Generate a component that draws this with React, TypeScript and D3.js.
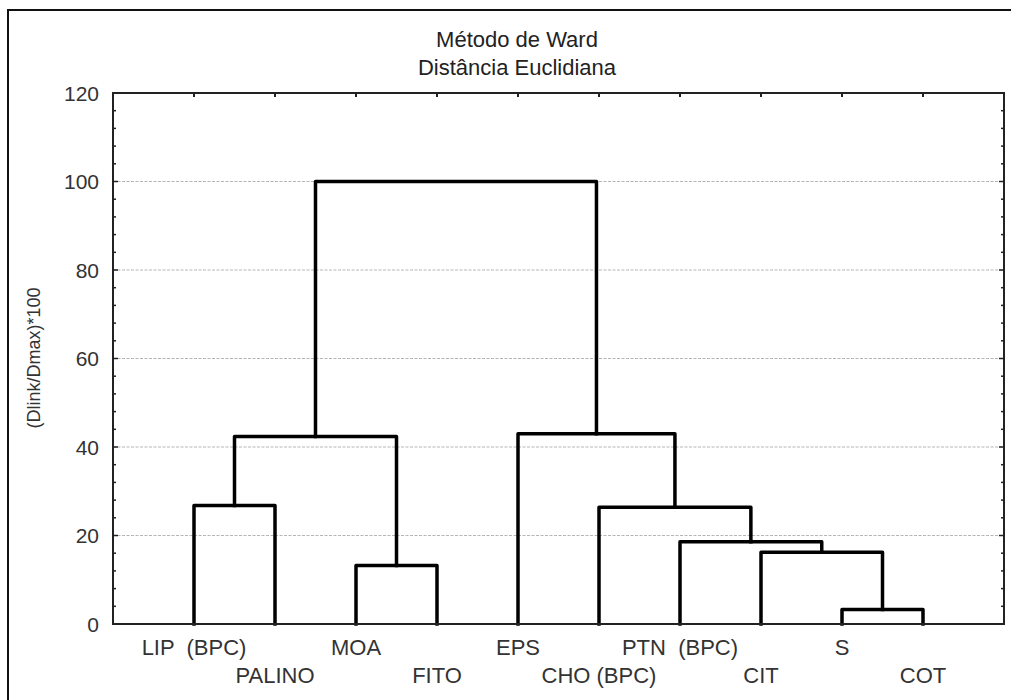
import React from 'react';
import * as d3 from 'd3';

// leaf order along the x axis
const leaves = ['LIP  (BPC)', 'PALINO', 'MOA', 'FITO', 'EPS', 'CHO (BPC)', 'PTN  (BPC)', 'CIT', 'S', 'COT'];

// linkage table (scipy style): ids 0..9 are leaves, 10+ are clusters in merge order
const mergeLeft = [8, 2, 7, 6, 5, 0, 15, 4, 16];
const mergeRight = [9, 3, 10, 12, 13, 1, 11, 14, 17];
const mergeHeight = [3.3, 13.2, 16.2, 18.6, 26.4, 26.8, 42.4, 43.0, 100];

const yTicks = [0, 20, 40, 60, 80, 100, 120];
const gridValues = [20, 40, 60, 80, 100];

const title = ['Método de Ward', 'Distância Euclidiana'];
const yLabel = '(Dlink/Dmax)*100';

const W = 1011;
const H = 700;
const plot = { left: 113, right: 1004, top: 93, bottom: 624 };
const font = 'Arial, "Liberation Sans", sans-serif';

export default function App() {
  const x = d3.scalePoint<string>().domain(leaves).range([plot.left, plot.right]).padding(1);
  const y = d3.scaleLinear().domain([0, 120]).range([plot.bottom, plot.top]);

  // x / height of every node
  const nodeX: number[] = leaves.map(l => x(l) as number);
  const nodeH: number[] = leaves.map(() => 0);
  const paths: string[] = [];
  mergeLeft.forEach((l, i) => {
    const r = mergeRight[i];
    const h = mergeHeight[i];
    const p = d3.path();
    p.moveTo(nodeX[l], y(nodeH[l]));
    p.lineTo(nodeX[l], y(h));
    p.lineTo(nodeX[r], y(h));
    p.lineTo(nodeX[r], y(nodeH[r]));
    paths.push(p.toString());
    nodeX.push((nodeX[l] + nodeX[r]) / 2);
    nodeH.push(h);
  });

  const minor = d3.range(0, 121, 4);

  return (
    <svg width={W} height={H} style={{ position: 'absolute', left: 0, top: 0, background: '#fff' }}
      fontFamily={font}>
      <rect x={8} y={10} width={1030} height={720} fill="#fff" stroke="#111" strokeWidth={2} />

      {title.map((t, i) => (
        <text key={t} x={517} y={47 + i * 28} textAnchor="middle" fontSize={22} fill="#222">{t}</text>
      ))}

      {/* grid */}
      {gridValues.map(v => (
        <line key={v} x1={plot.left} x2={plot.right} y1={y(v)} y2={y(v)}
          stroke="#b5b5b5" strokeWidth={1} strokeDasharray="3,1.5" />
      ))}

      {/* dendrogram */}
      {paths.map((d, i) => (
        <path key={i} d={d} fill="none" stroke="#000" strokeWidth={3.5}
          strokeLinejoin="round" strokeLinecap="square" />
      ))}

      {/* frame */}
      <rect x={plot.left} y={plot.top} width={plot.right - plot.left} height={plot.bottom - plot.top}
        fill="none" stroke="#222" strokeWidth={2} />

      {/* y ticks, left and right, inward */}
      {minor.map(v => {
        const major = v % 20 === 0;
        const len = major ? 5 : 3;
        return (
          <g key={v}>
            <line x1={plot.left} x2={plot.left + len} y1={y(v)} y2={y(v)} stroke="#222" strokeWidth={1.5} />
            <line x1={plot.right} x2={plot.right - len} y1={y(v)} y2={y(v)} stroke="#222" strokeWidth={1.5} />
          </g>
        );
      })}
      {yTicks.map(v => (
        <text key={v} x={plot.left - 14} y={y(v)} dy="0.36em" textAnchor="end" fontSize={21} fill="#333">{v}</text>
      ))}

      {/* x ticks at top, inward */}
      {leaves.map(l => (
        <line key={l} x1={x(l)} x2={x(l)} y1={plot.top} y2={plot.top + 4} stroke="#222" strokeWidth={2} />
      ))}

      {/* leaf labels, staggered */}
      {leaves.map((l, i) => (
        <text key={l} x={x(l)} y={i % 2 === 0 ? 655 : 683} textAnchor="middle" fontSize={22}
          fill="#333" style={{ whiteSpace: 'pre' }}>{l}</text>
      ))}

      <text transform={`translate(40,358) rotate(-90)`} textAnchor="middle" fontSize={18} fill="#333">{yLabel}</text>
    </svg>
  );
}
